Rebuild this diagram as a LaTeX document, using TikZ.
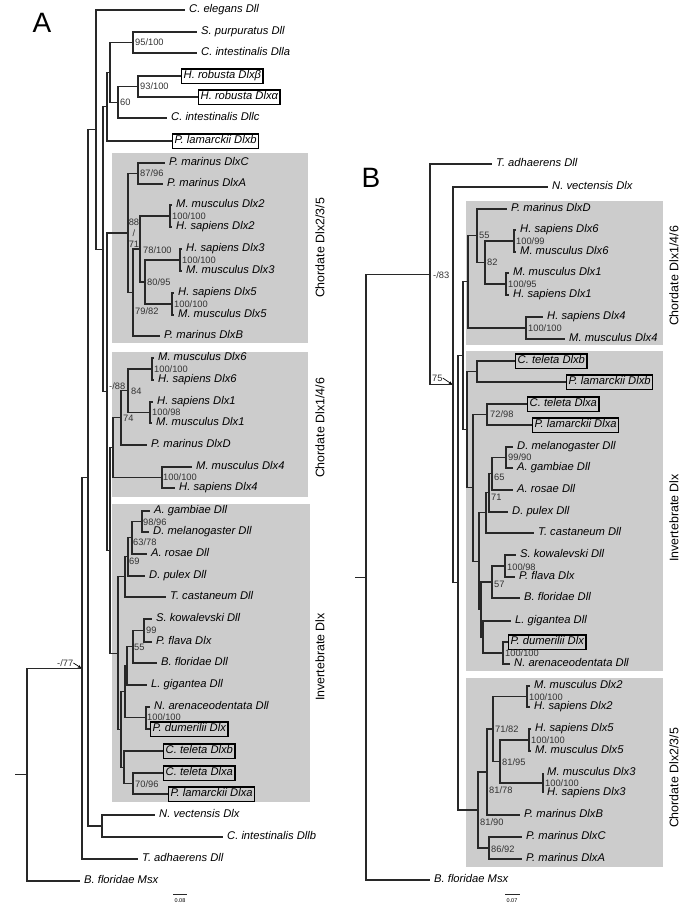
\documentclass[tikz,border=0pt]{standalone}
\usepackage{fontspec}
\setmainfont{Liberation Sans}
\usetikzlibrary{arrows.meta}
\definecolor{cladegray}{RGB}{204,204,204}
\definecolor{branch}{RGB}{40,40,40}

\begin{document}
\begin{tikzpicture}[
    x=1pt, y=-1pt,
    br/.style={draw=branch, line width=1.05pt},
    leaf/.style={anchor=west, inner xsep=4pt, inner ysep=0pt, font=\fontsize{11.2}{12}\selectfont\itshape, text height=8pt, text depth=2.4pt},
    boxed/.style={leaf, draw=black, line width=1.4pt, inner xsep=2pt, inner ysep=2pt},
    bs/.style={anchor=west, inner sep=0pt, font=\fontsize{9.3}{11}\selectfont, text=black!80},
    clade/.style={fill=cladegray},
    cladelabel/.style={rotate=90, font=\fontsize{12.4}{13}\selectfont},
    panel/.style={font=\fontsize{28}{28}\selectfont},
    pointer/.style={-{Stealth[length=3.5pt,width=3pt]}, line width=0.7pt, shorten >=1pt}
]
\useasboundingbox (0,0) rectangle (685,906);

% shaded clades
\fill[clade] (112,153) rectangle (308,343);
\fill[clade] (112,352) rectangle (308,497);
\fill[clade] (112,504) rectangle (310,802);
\fill[clade] (466,201) rectangle (663,345);
\fill[clade] (466,351) rectangle (663,671);
\fill[clade] (466,678) rectangle (663,867);

\node[panel] (lblA) at (42,23) {A};
\node[panel] (lblB) at (371,178) {B};

% ---------- tree A: leaves ----------
\node[leaf] (aCel) at (185,10) {C. elegans Dll};
\node[leaf] (aSpu) at (197,32) {S. purpuratus Dll};
\node[leaf] (aCiA) at (197,53) {C. intestinalis Dlla};
\node[boxed] (aHrB) at (181,76) {H. robusta Dlxβ};
\node[boxed] (aHrA) at (198,97) {H. robusta Dlxα};
\node[leaf] (aCiC) at (167,118) {C. intestinalis Dllc};
\node[boxed] (aPlB) at (172,141) {P. lamarckii Dlxb};
\node[leaf] (aPmC) at (165,163) {P. marinus DlxC};
\node[leaf] (aPmA) at (163,184) {P. marinus DlxA};
\node[leaf] (aMm2) at (172,205) {M. musculus Dlx2};
\node[leaf] (aHs2) at (172,227) {H. sapiens Dlx2};
\node[leaf] (aHs3) at (182,249) {H. sapiens Dlx3};
\node[leaf] (aMm3) at (182,271) {M. musculus Dlx3};
\node[leaf] (aHs5) at (174,293) {H. sapiens Dlx5};
\node[leaf] (aMm5) at (174,315) {M. musculus Dlx5};
\node[leaf] (aPmB) at (160,336) {P. marinus DlxB};
\node[leaf] (aMm6) at (154,358) {M. musculus Dlx6};
\node[leaf] (aHs6) at (154,380) {H. sapiens Dlx6};
\node[leaf] (aHs1) at (153,402) {H. sapiens Dlx1};
\node[leaf] (aMm1) at (152,423) {M. musculus Dlx1};
\node[leaf] (aPmD) at (147,445) {P. marinus DlxD};
\node[leaf] (aMm4) at (192,467) {M. musculus Dlx4};
\node[leaf] (aHs4) at (175,488) {H. sapiens Dlx4};
\node[leaf] (aAga) at (150,511) {A. gambiae Dll};
\node[leaf] (aDme) at (149,532) {D. melanogaster Dll};
\node[leaf] (aAro) at (147,554) {A. rosae Dll};
\node[leaf] (aDpu) at (145,576) {D. pulex Dll};
\node[leaf] (aTca) at (166,597) {T. castaneum Dll};
\node[leaf] (aSko) at (152,619) {S. kowalevski Dll};
\node[leaf] (aPfl) at (152,642) {P. flava Dlx};
\node[leaf] (aBfl) at (157,663) {B. floridae Dll};
\node[leaf] (aLgi) at (147,685) {L. gigantea Dll};
\node[leaf] (aNar) at (150,707) {N. arenaceodentata Dll};
\node[boxed] (aPdu) at (150,729) {P. dumerilii Dlx};
\node[boxed] (aCtB) at (163,751) {C. teleta Dlxb};
\node[boxed] (aCtA) at (163,773) {C. teleta Dlxa};
\node[boxed] (aPlA) at (168,794) {P. lamarckii Dlxa};
\node[leaf] (aNve) at (155,815) {N. vectensis Dlx};
\node[leaf] (aCiB) at (223,837) {C. intestinalis Dllb};
\node[leaf] (aTad) at (138,859) {T. adhaerens Dll};
\node[leaf] (aBfM) at (80,881) {B. floridae Msx};

% tree A: internal nodes
\coordinate (a95) at (133,42.5);
\coordinate (a93) at (138,86.5);
\coordinate (a60) at (118,102.25);
\coordinate (aIn1) at (110,72.4);
\coordinate (aIn2) at (107,106.7);
\coordinate (a87) at (138,173.5);
\coordinate (aD2) at (170,216);
\coordinate (aD3) at (180,260);
\coordinate (aD5) at (172,304);
\coordinate (a80) at (145,282);
\coordinate (a78) at (140,249);
\coordinate (a79) at (133,292.5);
\coordinate (a8871) at (128,233);
\coordinate (aD6) at (152,369);
\coordinate (aD1) at (150,412.5);
\coordinate (a84) at (128,390.75);
\coordinate (a74) at (121,417.9);
\coordinate (aD4) at (162,477.5);
\coordinate (aC146) at (113,447.7);
\coordinate (a98) at (142,521.5);
\coordinate (a63) at (132,537.75);
\coordinate (a69) at (128,556.9);
\coordinate (aArt) at (125,576.9);
\coordinate (a99) at (144,630.5);
\coordinate (a55) at (133,646.75);
\coordinate (aR0) at (127,665.9);
\coordinate (aAnn) at (146,717.5);
\coordinate (aR1) at (125,691.7);
\coordinate (a70) at (133,783.5);
\coordinate (aR2) at (124,767.25);
\coordinate (aR) at (121,729.5);
\coordinate (aInv) at (118,653.2);
\coordinate (aQ) at (110,550.5);
\coordinate (am88) at (107,391.7);
\coordinate (a103) at (103,249.2);
\coordinate (a96) at (96,129.8);
\coordinate (aNC) at (102,826);
\coordinate (a88) at (88,477.9);
\coordinate (am77) at (82,668.5);
\coordinate (aRoot) at (27,774.7);
\coordinate (aStub) at (15,774.7);

% tree A: branches
\draw[br] (a95) |- (aSpu.west) (a95) |- (aCiA.west);
\draw[br] (a93) |- (aHrB.west) (a93) |- (aHrA.west);
\draw[br] (a60) |- (a93) (a60) |- (aCiC.west);
\draw[br] (aIn1) |- (a95) (aIn1) |- (a60);
\draw[br] (aIn2) |- (aIn1) (aIn2) |- (aPlB.west);
\draw[br] (a87) |- (aPmC.west) (a87) |- (aPmA.west);
\draw[br] (aD2) |- (aMm2.west) (aD2) |- (aHs2.west);
\draw[br] (aD3) |- (aHs3.west) (aD3) |- (aMm3.west);
\draw[br] (aD5) |- (aHs5.west) (aD5) |- (aMm5.west);
\draw[br] (a80) |- (aD3) (a80) |- (aD5);
\draw[br] (a78) |- (aD2) (a78) |- (a80);
\draw[br] (a79) |- (a78) (a79) |- (aPmB.west);
\draw[br] (a8871) |- (a87) (a8871) |- (a79);
\draw[br] (aD6) |- (aMm6.west) (aD6) |- (aHs6.west);
\draw[br] (aD1) |- (aHs1.west) (aD1) |- (aMm1.west);
\draw[br] (a84) |- (aD6) (a84) |- (aD1);
\draw[br] (a74) |- (a84) (a74) |- (aPmD.west);
\draw[br] (aD4) |- (aMm4.west) (aD4) |- (aHs4.west);
\draw[br] (aC146) |- (a74) (aC146) |- (aD4);
\draw[br] (a98) |- (aAga.west) (a98) |- (aDme.west);
\draw[br] (a63) |- (a98) (a63) |- (aAro.west);
\draw[br] (a69) |- (a63) (a69) |- (aDpu.west);
\draw[br] (aArt) |- (a69) (aArt) |- (aTca.west);
\draw[br] (a99) |- (aSko.west) (a99) |- (aPfl.west);
\draw[br] (a55) |- (a99) (a55) |- (aBfl.west);
\draw[br] (aR0) |- (a55) (aR0) |- (aLgi.west);
\draw[br] (aAnn) |- (aNar.west) (aAnn) |- (aPdu.west);
\draw[br] (aR1) |- (aR0) (aR1) |- (aAnn);
\draw[br] (a70) |- (aCtA.west) (a70) |- (aPlA.west);
\draw[br] (aR2) |- (aCtB.west) (aR2) |- (a70);
\draw[br] (aR) |- (aR1) (aR) |- (aR2);
\draw[br] (aInv) |- (aArt) (aInv) |- (aR);
\draw[br] (aQ) |- (aC146) (aQ) |- (aInv);
\draw[br] (am88) |- (a8871) (am88) |- (aQ);
\draw[br] (a103) |- (aIn2) (a103) |- (am88);
\draw[br] (a96) |- (aCel.west) (a96) |- (a103);
\draw[br] (aNC) |- (aNve.west) (aNC) |- (aCiB.west);
\draw[br] (a88) |- (a96) (a88) |- (aNC);
\draw[br] (am77) |- (a88) (am77) |- (aTad.west);
\draw[br] (aRoot) |- (am77) (aRoot) |- (aBfM.west);
\draw[br] (aStub) -- (aRoot);

% tree A: support values
\node[bs] at (135,42.5) {95/100};
\node[bs] at (140,86.5) {93/100};
\node[bs] at (120,102) {60};
\node[bs] at (140,173.5) {87/96};
\node[bs] at (172,216) {100/100};
\node[bs, anchor=center, align=center] at (134,233) {88\\/\\71};
\node[bs] at (143,250) {78/100};
\node[bs] at (182,260) {100/100};
\node[bs] at (147,282) {80/95};
\node[bs] at (174,304) {100/100};
\node[bs] at (135,311) {79/82};
\node[bs] at (109,386) {-/88};
\node[bs] at (131,391) {84};
\node[bs] at (154,369) {100/100};
\node[bs] at (152,412.5) {100/98};
\node[bs] at (123,418) {74};
\node[bs] at (163,477.5) {100/100};
\node[bs] at (143,522) {98/96};
\node[bs] at (133,542) {63/78};
\node[bs] at (129,561) {69};
\node[bs] at (146,630) {99};
\node[bs] at (134,647) {55};
\node[bs] at (147,717.5) {100/100};
\node[bs] at (135,784) {70/96};
\node[bs] (s77) at (57,663) {-/77};
\draw[pointer] (s77.east) -- (am77);

\node[cladelabel] (cA1) at (320,248) {Chordate Dlx2/3/5};
\node[cladelabel] (cA2) at (320,428) {Chordate Dlx1/4/6};
\node[cladelabel] (cA3) at (320,657) {Invertebrate Dlx};

% ---------- tree B: leaves ----------
\node[leaf] (bTad) at (492,164) {T. adhaerens Dll};
\node[leaf] (bNve) at (548,187) {N. vectensis Dlx};
\node[leaf] (bPmD) at (507,209) {P. marinus DlxD};
\node[leaf] (bHs6) at (516,230) {H. sapiens Dlx6};
\node[leaf] (bMm6) at (516,252) {M. musculus Dlx6};
\node[leaf] (bMm1) at (509,273) {M. musculus Dlx1};
\node[leaf] (bHs1) at (509,295) {H. sapiens Dlx1};
\node[leaf] (bHs4) at (543,317) {H. sapiens Dlx4};
\node[leaf] (bMm4) at (565,339) {M. musculus Dlx4};
\node[boxed] (bCtB) at (515,361) {C. teleta Dlxb};
\node[boxed] (bPlB) at (566,382) {P. lamarckii Dlxb};
\node[boxed] (bCtA) at (527,404) {C. teleta Dlxa};
\node[boxed] (bPlA) at (532,425) {P. lamarckii Dlxa};
\node[leaf] (bDme) at (513,447) {D. melanogaster Dll};
\node[leaf] (bAga) at (513,468) {A. gambiae Dll};
\node[leaf] (bAro) at (513,490) {A. rosae Dll};
\node[leaf] (bDpu) at (508,512) {D. pulex Dll};
\node[leaf] (bTca) at (534,533) {T. castaneum Dll};
\node[leaf] (bSko) at (516,555) {S. kowalevski Dll};
\node[leaf] (bPfl) at (515,577) {P. flava Dlx};
\node[leaf] (bBfl) at (520,598) {B. floridae Dll};
\node[leaf] (bLgi) at (511,621) {L. gigantea Dll};
\node[boxed] (bPdu) at (508,642) {P. dumerilii Dlx};
\node[leaf] (bNar) at (510,664) {N. arenaceodentata Dll};
\node[leaf] (bMm2) at (530,686) {M. musculus Dlx2};
\node[leaf] (bHs2) at (530,707) {H. sapiens Dlx2};
\node[leaf] (bHs5) at (531,729) {H. sapiens Dlx5};
\node[leaf] (bMm5) at (531,751) {M. musculus Dlx5};
\node[leaf] (bMm3) at (543,773) {M. musculus Dlx3};
\node[leaf] (bHs3) at (543,793) {H. sapiens Dlx3};
\node[leaf] (bPmB) at (520,815) {P. marinus DlxB};
\node[leaf] (bPmC) at (522,837) {P. marinus DlxC};
\node[leaf] (bPmA) at (522,859) {P. marinus DlxA};
\node[leaf] (bBfM) at (430,880) {B. floridae Msx};

% tree B: internal nodes
\coordinate (bD6) at (514,241);
\coordinate (bD1) at (506,284);
\coordinate (b82) at (485,262.5);
\coordinate (b55) at (477,235.75);
\coordinate (bD4) at (526,328);
\coordinate (bC146) at (468,281.9);
\coordinate (bX1) at (477,371.5);
\coordinate (b72) at (487,414.5);
\coordinate (b99) at (506,457.5);
\coordinate (b65) at (492,473.75);
\coordinate (b71) at (489,492.9);
\coordinate (bArt) at (486,512.9);
\coordinate (b100) at (505,566);
\coordinate (b57) at (492,582);
\coordinate (bAnn) at (503,653);
\coordinate (bI5) at (483,637);
\coordinate (bI4) at (481,609.5);
\coordinate (bI3) at (479,561.2);
\coordinate (bI2) at (473,487.9);
\coordinate (bI1) at (467,429.7);
\coordinate (bZ) at (463,355.8);
\coordinate (bD2) at (527,696.5);
\coordinate (bD5) at (529,740);
\coordinate (bD3) at (543,783);
\coordinate (b8195) at (500,761.5);
\coordinate (b7182) at (493,729);
\coordinate (b8178) at (487,772);
\coordinate (b8692) at (489,848);
\coordinate (b8190) at (478,810);
\coordinate (bY) at (458,582.9);
\coordinate (b75) at (453,384.95);
\coordinate (bm83) at (430,274.5);
\coordinate (bRoot) at (366,577.2);
\coordinate (bStub) at (355,577.2);

% tree B: branches
\draw[br] (bD6) |- (bHs6.west) (bD6) |- (bMm6.west);
\draw[br] (bD1) |- (bMm1.west) (bD1) |- (bHs1.west);
\draw[br] (b82) |- (bD6) (b82) |- (bD1);
\draw[br] (b55) |- (bPmD.west) (b55) |- (b82);
\draw[br] (bD4) |- (bHs4.west) (bD4) |- (bMm4.west);
\draw[br] (bC146) |- (b55) (bC146) |- (bD4);
\draw[br] (bX1) |- (bCtB.west) (bX1) |- (bPlB.west);
\draw[br] (b72) |- (bCtA.west) (b72) |- (bPlA.west);
\draw[br] (b99) |- (bDme.west) (b99) |- (bAga.west);
\draw[br] (b65) |- (b99) (b65) |- (bAro.west);
\draw[br] (b71) |- (b65) (b71) |- (bDpu.west);
\draw[br] (bArt) |- (b71) (bArt) |- (bTca.west);
\draw[br] (b100) |- (bSko.west) (b100) |- (bPfl.west);
\draw[br] (b57) |- (b100) (b57) |- (bBfl.west);
\draw[br] (bAnn) |- (bPdu.west) (bAnn) |- (bNar.west);
\draw[br] (bI5) |- (bLgi.west) (bI5) |- (bAnn);
\draw[br] (bI4) |- (b57) (bI4) |- (bI5);
\draw[br] (bI3) |- (bArt) (bI3) |- (bI4);
\draw[br] (bI2) |- (b72) (bI2) |- (bI3);
\draw[br] (bI1) |- (bX1) (bI1) |- (bI2);
\draw[br] (bZ) |- (bC146) (bZ) |- (bI1);
\draw[br] (bD2) |- (bMm2.west) (bD2) |- (bHs2.west);
\draw[br] (bD5) |- (bHs5.west) (bD5) |- (bMm5.west);
\draw[br] (bD3) |- (bMm3.west) (bD3) |- (bHs3.west);
\draw[br] (b8195) |- (bD5) (b8195) |- (bD3);
\draw[br] (b7182) |- (bD2) (b7182) |- (b8195);
\draw[br] (b8178) |- (b7182) (b8178) |- (bPmB.west);
\draw[br] (b8692) |- (bPmC.west) (b8692) |- (bPmA.west);
\draw[br] (b8190) |- (b8178) (b8190) |- (b8692);
\draw[br] (bY) |- (bZ) (bY) |- (b8190);
\draw[br] (b75) |- (bNve.west) (b75) |- (bY);
\draw[br] (bm83) |- (bTad.west) (bm83) |- (b75);
\draw[br] (bRoot) |- (bm83) (bRoot) |- (bBfM.west);
\draw[br] (bStub) -- (bRoot);

% tree B: support values
\node[bs] at (433,275) {-/83};
\node[bs] (s75) at (432,378) {75};
\draw[pointer] (s75.east) -- (b75);
\node[bs] at (479,235.75) {55};
\node[bs] at (487,262.5) {82};
\node[bs] at (516,241) {100/99};
\node[bs] at (508,284) {100/95};
\node[bs] at (528,328) {100/100};
\node[bs] at (490,414.5) {72/98};
\node[bs] at (508,457.5) {99/90};
\node[bs] at (494,477) {65};
\node[bs] at (491,497) {71};
\node[bs] at (507,567) {100/98};
\node[bs] at (494,584) {57};
\node[bs] at (505,653) {100/100};
\node[bs] at (529,697) {100/100};
\node[bs] at (495,729) {71/82};
\node[bs] at (531,740) {100/100};
\node[bs] at (502,762) {81/95};
\node[bs] at (545,783) {100/100};
\node[bs] at (489,790) {81/78};
\node[bs] at (480,822) {81/90};
\node[bs] at (491,849) {86/92};

\node[cladelabel] (cB1) at (674,276) {Chordate Dlx1/4/6};
\node[cladelabel] (cB2) at (674,518) {Invertebrate Dlx};
\node[cladelabel] (cB3) at (674,778) {Chordate Dlx2/3/5};

% scale bars
\coordinate (aSL) at (173,894);
\coordinate (aSR) at (187,894);
\draw[br, line width=0.6pt] (aSL) -- (aSR);
\node[font=\fontsize{5.5}{6}\selectfont, inner sep=0pt] (aSc) at (180,901) {0.08};
\coordinate (bSL) at (505,894);
\coordinate (bSR) at (520,894);
\draw[br, line width=0.6pt] (bSL) -- (bSR);
\node[font=\fontsize{5.5}{6}\selectfont, inner sep=0pt] (bSc) at (512,901) {0.07};
\end{tikzpicture}
\end{document}
